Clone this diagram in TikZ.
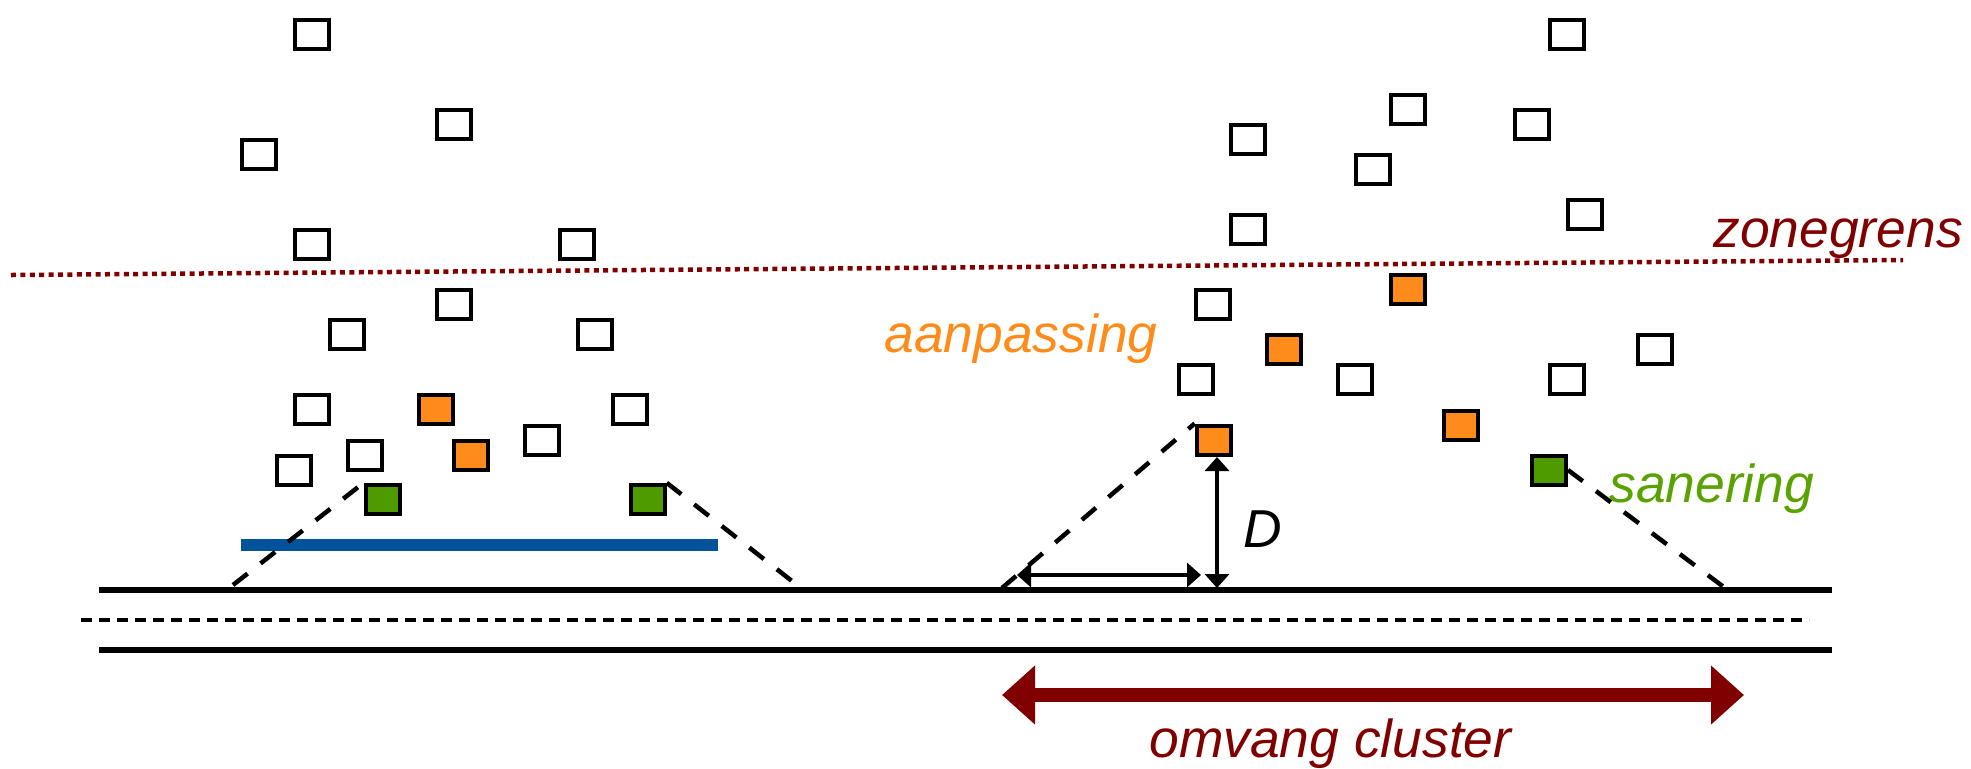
\documentclass[tikz,border=0pt]{standalone}
\usepackage{fontspec}
\setmainfont{Liberation Sans}
\usetikzlibrary{arrows.meta}
\definecolor{dred}{RGB}{128,0,0}
\definecolor{orng}{RGB}{255,140,26}
\definecolor{grn}{RGB}{78,155,0}
\definecolor{grntxt}{RGB}{90,162,0}
\definecolor{blu}{RGB}{0,82,155}
\begin{document}
\begin{tikzpicture}[x=0.5pt,y=-0.5pt,
  hs/.style={draw=black,line width=2pt,minimum width=17pt,minimum height=14.5pt,inner sep=0pt,fill=white},
  os/.style={hs,fill=orng},
  gs/.style={hs,fill=grn},
  lbl/.style={font=\fontsize{26.7pt}{30pt}\selectfont\itshape,inner sep=0pt,anchor=base west},
  road/.style={line width=2.6pt},
  mid/.style={line width=1.8pt,dash pattern=on 5.4pt off 3.6pt},
  cdash/.style={line width=2.25pt,dash pattern=on 9.25pt off 8.25pt},
  zone/.style={line width=2.25pt,dash pattern=on 2.5pt off 2.2pt,draw=dred},
  darr/.style={line width=2pt,{Triangle[length=7pt,width=12pt]}-{Triangle[length=7pt,width=12pt]}},
  bigarr/.style={line width=7pt,draw=dred,fill=dred,{Triangle[length=16.5pt,width=28.5pt]}-{Triangle[length=16.5pt,width=28.5pt]}}]
\useasboundingbox (0,0) rectangle (1971,768);

% road
\coordinate (rtA) at (99,590);  \coordinate (rtB) at (1832,590);
\coordinate (rmA) at (81,620);  \coordinate (rmB) at (1809,620);
\coordinate (rbA) at (99,650);  \coordinate (rbB) at (1832,650);
\draw[road] (rtA) -- (rtB);
\draw[mid] (rmA) -- (rmB);
\draw[road] (rbA) -- (rbB);

% zone boundary
\coordinate (zA) at (11,275); \coordinate (zB) at (1903,260);
\draw[zone] (zA) -- (zB);

% blue line
\coordinate (bA) at (241,545); \coordinate (bB) at (718,545);
\draw[line width=6pt,blu] (bA) -- (bB);

% left cluster
\node[hs] (l1) at (311.6,34.3) {};
\node[hs] (l2) at (453.6,124.3) {};
\node[hs] (l3) at (258.9,154.3) {};
\node[hs] (l4) at (311.6,244.3) {};
\node[hs] (l5) at (576.8,244.3) {};
\node[hs] (l6) at (453.6,304.3) {};
\node[hs] (l7) at (347.3,334.3) {};
\node[hs] (l8) at (594.6,334.3) {};
\node[hs] (l9) at (311.6,409.3) {};
\node[os] (lo1) at (435.8,409.3) {};
\node[hs] (l10) at (629.8,409.3) {};
\node[hs] (l11) at (364.8,455) {};
\node[os] (lo2) at (470.5,455) {};
\node[hs] (l12) at (542,440) {};
\node[hs] (l13) at (294.3,470) {};
\node[gs] (lg1) at (382.6,499.3) {};
\node[gs] (lg2) at (647.7,499.3) {};

% right cluster
\node[hs] (r1) at (1567,34.3) {};
\node[hs] (r2) at (1407.6,109.3) {};
\node[hs] (r3) at (1532,124.3) {};
\node[hs] (r4) at (1248.2,139.3) {};
\node[hs] (r5) at (1373.3,169.3) {};
\node[hs] (r6) at (1585,214.3) {};
\node[hs] (r7) at (1248.2,229.3) {};
\node[os] (ro1) at (1407.6,289.3) {};
\node[hs] (r8) at (1213.2,304.3) {};
\node[os] (ro2) at (1284,349.3) {};
\node[hs] (r9) at (1655,349.3) {};
\node[hs] (r10) at (1196,379.3) {};
\node[hs] (r11) at (1354.7,379.3) {};
\node[hs] (r12) at (1567,379.3) {};
\node[os] (ro3) at (1213.7,440) {};
\node[os] (ro4) at (1461,425) {};
\node[gs] (rg1) at (1549,470) {};

% cluster dashed lines
\coordinate (c1) at (233,585);
\coordinate (c2) at (797,585);
\coordinate (c3) at (1002,588);
\coordinate (c4) at (1725,588);
\draw[cdash] (c1) -- (lg1.north west);
\draw[cdash] (lg2.north east) -- (c2);
\draw[cdash] (c3) -- (ro3.north west);
\draw[cdash] (rg1.east) -- (c4);

% D arrows
\coordinate (dtop) at (1217,457);
\coordinate (dbot) at (1217,588);
\coordinate (hL) at (1017,575);
\coordinate (hR) at (1201,575);
\draw[darr] (dtop) -- (dbot);
\draw[darr] (hL) -- (hR);

% big arrow
\coordinate (aL) at (1002,695);
\coordinate (aR) at (1744,695);
\draw[bigarr] (aL) -- (aR);

% labels
\node[lbl,text=dred] (tz) at (1713,247) {zonegrens};
\node[lbl,text=orng] (ta) at (884,352) {aanpassing};
\node[lbl,text=grntxt] (ts) at (1609,502) {sanering};
\node[lbl,text=black] (td) at (1243,547) {D};
\node[lbl,text=dred] (to) at (1149,757) {omvang cluster};
\end{tikzpicture}
\end{document}
